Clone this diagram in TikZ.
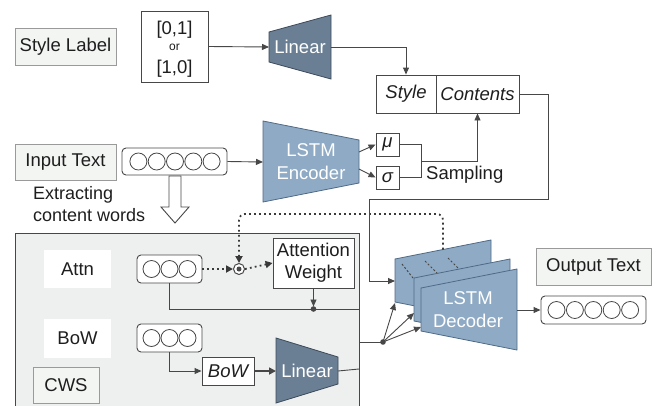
\documentclass[tikz,border=0pt]{standalone}
\usepackage{fontspec}
\setmainfont{Liberation Sans}
\usetikzlibrary{arrows.meta}
\definecolor{linec}{HTML}{474747}
\definecolor{lfill}{HTML}{F3F5F3}
\definecolor{lbord}{HTML}{9A9A9A}
\definecolor{linfill}{HTML}{6B7F94}
\definecolor{linbord}{HTML}{3C4A5A}
\definecolor{encfill}{HTML}{8FAAC5}
\definecolor{encbord}{HTML}{4F6A86}
\definecolor{cwsfill}{HTML}{EEF0EF}
\definecolor{txt}{HTML}{1E1E1E}
\begin{document}
\begin{tikzpicture}[x=1pt,y=-1pt,
  font=\fontsize{18.5}{22}\selectfont, text=txt,
  ln/.style={draw=linec, line width=0.9pt},
  arr/.style={ln, -{Triangle[length=7pt,width=6pt]}},
  dots/.style={draw=linec!80!black, line width=1.8pt, dash pattern=on 1.8pt off 3.2pt},
  darr/.style={dots, -{Triangle[length=7pt,width=7pt]}},
  box/.style={draw=linec, fill=white, line width=0.9pt, inner sep=0pt},
  lab/.style={draw=lbord, fill=lfill, line width=0.9pt, inner sep=0pt},
  vec/.style={box, rounded corners=4pt},
  circ/.style={draw=linec, line width=0.8pt},
  enctrap/.style={draw=encbord, fill=encfill, line width=0.8pt},
  lintrap/.style={draw=linbord, fill=linfill, line width=0.8pt},
  wtxt/.style={text=white, align=center, inner sep=0pt, font=\fontsize{18.5}{23}\selectfont},
  it/.style={font=\fontsize{18.5}{22}\selectfont\itshape}
]
\useasboundingbox (0,0) rectangle (670,405);

% ---------- CWS container ----------
\fill[cwsfill] (15,233) rectangle (359,412);
\draw[draw=linec, line width=1pt] (15,412) -- (15,233) -- (359,233) -- (359,412);

% ---------- style label row ----------
\node[lab, minimum width=101pt, minimum height=37pt] (stylelabel) at (65.5,46.5) {Style Label};
\node[box, minimum width=67pt, minimum height=71pt] (onehot) at (174.5,46.5) {};
\node[inner sep=0pt] (oh1) at (174.5,30) {[0,1]};
\node[inner sep=0pt, font=\fontsize{12}{14}\selectfont] (oh2) at (174.5,47.5) {or};
\node[inner sep=0pt] (oh3) at (174.5,69) {[1,0]};

\draw[lintrap] (269,32) -- (331,15) -- (331,79) -- (269,62) -- cycle;
\node[wtxt] (lintop) at (300,47) {Linear};
\coordinate (lintopin) at (269,47);
\coordinate (lintopout) at (331,47);

\node[box, it, minimum width=60pt, minimum height=38pt] (style) at (406,94) {Style};
\node[box, it, minimum width=83pt, minimum height=38pt] (contents) at (477.5,94) {Contents};

\draw[arr] (onehot.east) -- (lintopin);
\draw[arr] (lintopout) -- (style.north |- lintopout) -- (style.north);

% ---------- input row ----------
\node[lab, minimum width=101pt, minimum height=36pt] (inputlabel) at (65.5,162) {Input Text};
\node[vec, minimum width=105pt, minimum height=27pt] (invec) at (174.5,161.5) {};
\foreach \cx in {138.4,156.7,175,193.3,211.6}
  \draw[circ] (\cx,161.5) circle[radius=8.5pt];

\draw[enctrap] (263,121) -- (359,140) -- (359,183) -- (263,202) -- cycle;
\node[wtxt] (enc) at (311,161.5) {LSTM\\Encoder};
\coordinate (encin) at (263,162);
\coordinate (encmu) at (359,152);
\coordinate (encsig) at (359,169);

\draw[arr] (invec.east) -- (encin);

\node[box, minimum width=23pt, minimum height=23pt, it] (mu) at (387.5,144.5) {μ};
\node[box, minimum width=23pt, minimum height=23pt, it] (sigma) at (387.5,177.5) {σ};
\draw[arr] (encmu) -- (mu.west);
\draw[arr] (encsig) -- (sigma.west);
\draw[ln] (mu.east) -- (421,144.5) -- (421,177.5) -- (sigma.east);
\coordinate (samp) at (421,161);
\draw[arr] (samp) -- (contents.south |- samp) -- (contents.south);
\node[anchor=west, inner sep=0pt] (sampling) at (426,175) {Sampling};

% ---------- extracting ----------
\node[anchor=west, align=left, inner sep=0pt, font=\fontsize{18}{22}\selectfont] (extract) at (33,204) {Extracting\\content words};
\draw[ln, fill=white] (169,176) -- (181,176) -- (181,207) -- (189,207) -- (175,223) -- (161,207) -- (169,207) -- cycle;

% ---------- CWS contents ----------
\node[fill=white, minimum width=67pt, minimum height=38pt, inner sep=0pt] (attnlabel) at (77.5,269) {Attn};
\node[fill=white, minimum width=67pt, minimum height=39pt, inner sep=0pt] (bowlabel) at (77.5,338.5) {BoW};
\node[lab, minimum width=66pt, minimum height=36pt] (cwslabel) at (66,385) {CWS};

\node[vec, minimum width=65pt, minimum height=28pt] (attnvec) at (169.5,269) {};
\foreach \cx in {151.5,169.5,187.5}
  \draw[circ] (\cx,269) circle[radius=8.5pt];
\node[vec, minimum width=65pt, minimum height=28pt] (bowvec) at (169.5,338) {};
\foreach \cx in {151.5,169.5,187.5}
  \draw[circ] (\cx,338) circle[radius=8.5pt];

\node[circle, draw=linec, line width=1pt, fill=white, minimum size=11pt, inner sep=0pt] (odot) at (239,269) {};
\fill[linec] (odot.center) circle[radius=2.5pt];

\node[box, minimum width=81pt, minimum height=50pt, align=center] (attw) at (313.5,263) {Attention\\Weight};

\draw[darr] (attnvec.east) -- (odot.west);
\draw[darr] (odot.east) -- (attw.west);

\coordinate (j1) at (313.5,309);
\draw[ln] (attnvec.south) |- (359,309);
\fill[linec] (j1) circle[radius=2.8pt];
\draw[arr, shorten >=2.5pt] (attw.south) -- (j1);

\node[box, it, minimum width=52pt, minimum height=28pt] (bowbox) at (228,371) {BoW};
\draw[arr] (bowvec.south) |- (bowbox.west);

\draw[lintrap] (276,338) -- (338,357) -- (338,384) -- (276,403) -- cycle;
\node[wtxt] (linbot) at (307,371) {Linear};
\coordinate (linbotin) at (276,371);
\coordinate (linbotout) at (338,371);
\draw[draw=linec, line width=1.6pt, -{Triangle[length=7pt,width=7pt]}] (bowbox.east) -- (linbotin);
\draw[ln] (linbotout) -- (359,369);

% ---------- decoder ----------
\draw[enctrap] (395,259) -- (491,240) -- (491,321) -- (395,302) -- cycle;
\draw[draw=linec, line width=1pt, dash pattern=on 2pt off 2pt] (402,264) -- (413,278);
\draw[draw=linec, line width=1pt, dash pattern=on 2pt off 2pt] (425,261) -- (437,273);
\draw[draw=linec, line width=1pt, dash pattern=on 2pt off 2pt] (448,258) -- (460,270);
\draw[enctrap] (414,278) -- (510,259) -- (510,340) -- (414,321) -- cycle;
\draw[enctrap] (421,288) -- (517,269) -- (517,350) -- (421,331) -- cycle;
\node[wtxt] (dec) at (468,310) {LSTM\\Decoder};
\coordinate (decback) at (395,303);
\coordinate (decmid) at (414,313);
\coordinate (decfront) at (421,327);
\coordinate (decfeed) at (395,281);
\coordinate (dtop) at (443,249.5);
\coordinate (decout) at (517,310);

\draw[darr, rounded corners=6pt] (dtop) -- (443,214) -- (239,214) -- (odot.north);

\draw[arr] (contents.east) -- (548,94) -- (548,199) -- (369,199) -- (369,281) -- (decfeed);

\coordinate (j2) at (383,342);
\draw[ln] (359,342) -- (j2);
\fill[linec] (j2) circle[radius=2.8pt];
\draw[arr] (j2) -- (decback);
\draw[arr] (j2) -- (decmid);
\draw[arr] (j2) -- (decfront);

\node[vec, minimum width=105pt, minimum height=28pt] (outvec) at (593.5,310) {};
\foreach \cx in {556.5,574.9,593.3,611.7,630.1}
  \draw[circ] (\cx,310) circle[radius=8.5pt];
\node[lab, minimum width=115pt, minimum height=37pt] (outlabel) at (593.5,266.5) {Output Text};
\draw[arr] (decout) -- (outvec.west);
\end{tikzpicture}
\end{document}
